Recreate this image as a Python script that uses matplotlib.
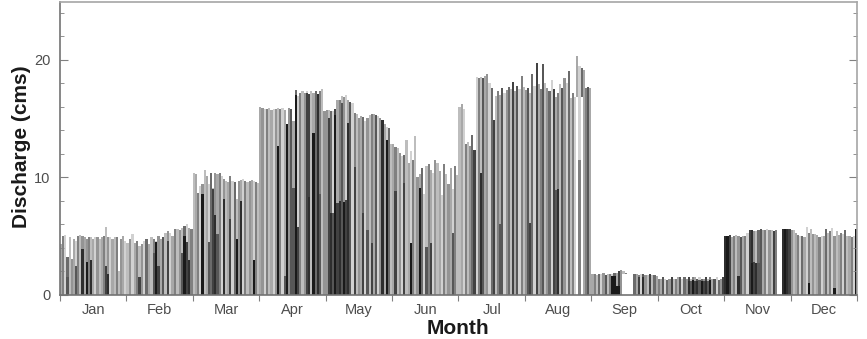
import numpy as np
import matplotlib.pyplot as plt

plt.rcParams['font.family'] = ['Liberation Sans', 'DejaVu Sans']

months = ['Jan', 'Feb', 'Mar', 'Apr', 'May', 'Jun', 'Jul', 'Aug', 'Sep', 'Oct', 'Nov', 'Dec']

# daily discharge (cms), upper envelope of the overlaid years
jan = [4.3, 5.0, 5.1, 3.2, 4.9, 3.1, 4.8, 4.6, 5.0, 5.1, 5.0, 4.9, 4.8, 4.9, 4.9, 4.8, 4.9, 4.9, 4.8, 4.9,
       5.0, 5.8, 4.9, 4.9, 4.8, 4.9, 4.9, 2.0, 4.8, 5.0, 4.6]
feb = [4.4, 4.8, 5.2, 4.4, 4.6, 4.2, 4.3, 4.6, 4.8, 4.3, 4.9, 4.8, 4.6, 5.0, 4.8, 4.9, 5.3, 5.4, 5.3, 5.0,
       5.6, 5.6, 5.5, 5.7, 5.9, 6.0, 5.7, 5.6]
mar = [10.4, 10.3, 8.7, 9.3, 9.4, 10.6, 10.1, 9.4, 10.4, 9.1, 10.4, 10.3, 10.4, 10.1, 9.9, 9.7, 9.6, 10.1,
       9.7, 9.6, 8.2, 9.7, 9.8, 9.9, 9.7, 9.6, 9.7, 9.8, 9.7, 9.6, 9.5]
apr = [16.0, 15.9, 15.8, 15.8, 15.9, 15.7, 15.8, 15.8, 15.9, 15.8, 15.9, 15.7, 14.5, 15.9, 15.8, 14.8, 17.4,
       16.9, 17.2, 17.3, 17.2, 17.3, 17.1, 17.3, 17.2, 17.3, 17.0, 17.3, 17.5, 15.6]
may = [15.7, 15.7, 15.6, 15.6, 15.8, 16.6, 16.6, 16.9, 16.8, 17.0, 16.6, 16.4, 16.3, 15.5, 15.4, 15.0, 15.2,
       15.1, 14.8, 15.0, 15.3, 15.4, 15.4, 15.3, 15.2, 15.0, 14.8, 14.5, 14.3, 14.2, 12.8]
jun = [12.8, 12.6, 12.5, 12.1, 11.8, 11.9, 13.2, 11.2, 12.2, 11.5, 13.5, 10.0, 10.3, 10.8, 8.6, 11.0, 11.1,
       10.6, 10.4, 11.5, 11.2, 10.5, 8.5, 11.1, 10.3, 9.4, 10.8, 9.0, 11.0, 10.2]
jul = [16.0, 16.2, 15.8, 12.8, 13.0, 12.7, 13.6, 12.3, 18.5, 18.4, 18.5, 18.4, 18.6, 18.8, 18.0, 17.6, 14.9,
       16.9, 17.3, 17.0, 17.6, 17.2, 17.4, 17.7, 17.5, 18.1, 17.3, 17.8, 17.5, 18.6, 17.7]
aug = [17.4, 17.6, 17.2, 18.8, 17.8, 19.7, 17.9, 17.5, 19.6, 18.0, 17.6, 17.3, 18.3, 17.5, 16.8, 17.2, 17.9,
       17.6, 18.4, 18.0, 19.0, 16.7, 17.2, 16.8, 20.3, 19.5, 19.3, 19.1, 17.6, 17.7, 17.6]
sep = [1.8, 1.8, 1.7, 1.8, 1.8, 1.9, 1.7, 1.8, 1.8, 1.8, 1.9, 1.9, 2.0, 2.1, 2.0, 1.9, 1.8, 1.7, 1.8, 1.8,
       1.8, 1.7, 1.8, 1.8, 1.7, 1.7, 1.8, 1.7, 1.7, 1.6]
oct_ = [1.4, 1.4, 1.5, 1.4, 1.3, 1.4, 1.5, 1.4, 1.4, 1.5, 1.5, 1.4, 1.5, 1.4, 1.5, 1.4, 1.5, 1.5, 1.4, 1.5,
        1.4, 1.4, 1.5, 1.4, 1.5, 1.4, 1.4, 1.5, 1.3, 1.4, 1.5]
nov = [5.0, 5.0, 5.1, 4.9, 5.0, 5.1, 5.0, 4.9, 5.0, 5.0, 5.3, 5.5, 5.5, 5.4, 5.4, 5.5, 5.6, 5.5, 5.5, 5.6,
       5.5, 5.5, 5.4, 5.5, 0.0, 0.0, 5.6, 5.6, 5.6, 5.6]
dec = [5.5, 5.5, 5.3, 5.1, 5.0, 5.0, 4.9, 5.8, 5.3, 5.6, 5.2, 5.2, 5.1, 4.9, 5.0, 5.0, 5.6, 5.3, 5.4, 5.7,
       5.0, 5.4, 5.1, 5.3, 5.2, 5.5, 5.0, 5.0, 4.9, 5.0, 5.6]

# lower years drawn over the envelope
jan_in = [0, 0, 0, 1.5, 0, 0, 0, 2.5, 0, 0, 3.9, 0, 2.8, 0, 3.0, 0, 0, 0, 0, 0, 0, 2.5, 1.8, 0, 0, 0, 0, 0, 0, 0, 0]
feb_in = [0, 0, 0, 0, 0, 1.5, 0, 0, 0, 0, 0, 3.6, 4.5, 2.5, 0, 0, 0, 4.6, 0, 0, 0, 0, 0, 3.6, 5.0, 4.5, 3.0, 0]
mar_in = [0, 0, 0, 0, 8.6, 0, 0, 4.5, 0, 9.0, 6.8, 5.2, 0, 0, 8.2, 0, 0, 6.5, 0, 0, 4.8, 0, 8.0, 0, 0, 0, 0, 0,
          3.0, 0, 0]
apr_in = [0, 0, 0, 0, 0, 0, 0, 0, 12.7, 0, 0, 1.6, 14.5, 0, 0, 9.1, 17.0, 5.8, 0, 0, 0, 17.2, 8.3, 0, 13.8, 0,
          17.1, 8.6, 0, 0]
may_in = [0, 15.0, 7.0, 7.0, 15.3, 7.8, 8.0, 16.3, 7.9, 8.1, 14.6, 14.5, 0, 10.9, 0, 0, 0, 7.0, 0, 5.5, 0, 4.4,
          0, 0, 0, 0, 14.9, 0, 13.2, 0, 0]
jun_in = [0, 8.8, 0, 0, 0, 9.5, 0, 0, 4.4, 0, 0, 0, 9.1, 0, 0, 4.1, 0, 4.4, 0, 0, 0, 0, 0, 0, 0, 0, 0, 5.3, 0, 0]
jul_in = [0, 0, 0, 0, 0, 0, 0, 0, 0, 0, 10.4, 0, 0, 0, 0, 0, 0, 0, 0, 6.0, 0, 0, 0, 0, 0, 0, 0, 0, 0, 0, 0]
aug_in = [0, 0, 6.1, 0, 0, 0, 0, 0, 0, 0, 0, 0, 0, 0, 8.9, 9.0, 0, 0, 0, 0, 0, 0, 0, 0, 16.8, 11.5, 16.8, 0, 0,
          0, 0]
sep_in = [0, 0, 0, 0, 0, 0, 0, 0, 0, 1.6, 1.6, 0.8, 0.8, 0, 1.8, 1.8, 1.8, 1.8, 1.8, 0, 0, 1.5, 0, 1.5, 0, 0,
          0, 0, 0, 0]
oct_in = [0, 0, 0, 0, 0, 0, 0, 0, 0, 0, 0, 0, 0, 0, 1.2, 1.2, 1.3, 1.2, 1.2, 1.3, 1.2, 1.2, 1.2, 1.2, 1.3, 0, 0,
          0, 0, 0, 0]
nov_in = [0, 0, 0, 0, 0, 0, 1.6, 0, 0, 0, 0, 0, 2.7, 2.8, 2.7, 2.7, 0, 0, 0, 0, 0, 0, 0, 0, 0, 0, 0, 0, 0, 0]
dec_in = [0, 0, 0, 0, 0, 0, 0, 0, 1.0, 0, 0, 0, 0, 0, 0, 0, 0, 0, 0, 0, 0.6, 0, 0, 0, 0, 0, 0, 0, 0, 0, 0]

top = [jan, feb, mar, apr, may, jun, jul, aug, sep, oct_, nov, dec]
inner = [jan_in, feb_in, mar_in, apr_in, may_in, jun_in, jul_in, aug_in, sep_in, oct_in, nov_in, dec_in]

# grey code per day (0 dark .. 9 light, w white)
top_sh = ["7594867958676587968758697858679", "8697586947859673869758684975",
          "8759687948675968759486795867958", "769587968597863749586928749586",
          "6849275869739586749685739687948", "758694879586749857968795867958",
          "8795864295837694285739648273958", "6384927538649275836948597947537",
          "758496385947268593847593682847", "5739462857394628573946285739462",
          "102758637592168437596825991012", "6875947958687597485968759487590"]
inner_sh = {'Aug': "002000000000003100000000w5w0000",
            'Sep': "00000000000000wwwww00201000000"}


def gray(c):
    if c == 'w':
        return 'white'
    return str(0.1 + 0.08 * int(c))


fig = plt.figure(figsize=(8.67, 3.39), dpi=100)
ax = fig.add_axes([60/867, 1-295/339, 797/867, 293/339])

for m, name in enumerate(months):
    n = len(top[m])
    x = m + (np.arange(n) + 0.5) / n
    ax.bar(x, top[m], width=1.0/n, color=[gray(c) for c in top_sh[m]], linewidth=0, antialiased=False)
    sh = inner_sh.get(name, ("0213" * 8)[:n])
    ax.bar(x, inner[m], width=1.0/n, color=[gray(c) for c in sh], linewidth=0, antialiased=False)

ax.set_xlim(0, 12)
ax.set_ylim(0, 24.9)

ax.set_xticks(range(13))
ax.set_xticklabels([])
ax.set_xticks(np.arange(12) + 0.5, minor=True)
ax.set_xticklabels(months, minor=True)
ax.tick_params(axis='x', which='major', direction='out', length=4, color='0.5')
ax.tick_params(axis='x', which='minor', length=0, pad=6, labelsize=10.5, labelcolor='0.3')

ax.set_yticks([0, 10, 20])
ax.set_yticks(np.arange(0, 25, 2), minor=True)
ax.tick_params(axis='y', which='both', direction='in', left=True, right=True, color='0.5')
ax.tick_params(axis='y', which='major', length=6, pad=7, labelsize=10.5, labelcolor='0.3')
ax.tick_params(axis='y', which='minor', length=3)

for s in ['left', 'bottom']:
    ax.spines[s].set_color('0.45')
for s in ['top', 'right']:
    ax.spines[s].set_color('0.65')
for s in ax.spines.values():
    s.set_linewidth(1.2)

fig.text(22/867, 1-147/339, 'Discharge (cms)', rotation=90, ha='center', va='center',
         fontsize=15, fontweight='bold', color='0.1')
fig.text(458/867, 0.002, 'Month', ha='center', va='bottom',
         fontsize=15, fontweight='bold', color='0.1')

fig.savefig('out.png', dpi=100)
